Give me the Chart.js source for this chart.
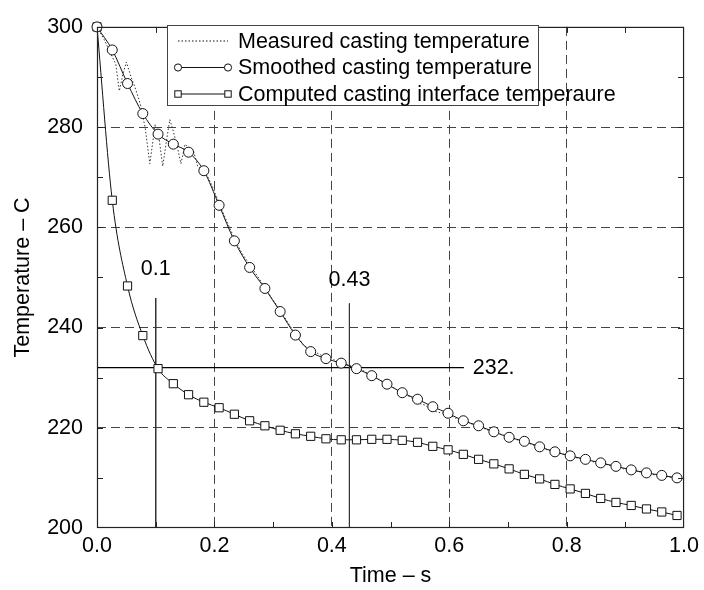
<!DOCTYPE html>
<html>
<head>
<meta charset="utf-8">
<title>Casting temperature</title>
<script src="https://cdn.jsdelivr.net/npm/chart.js@4.4.1/dist/chart.umd.min.js"></script>
<style>
  html, body { margin: 0; padding: 0; background: #fff; }
  .ChartBox { position: relative; width: 704px; height: 590px; }
</style>
</head>
<body>
<div class="ChartBox"><canvas id="TempChart"></canvas></div>
<script>
// sample times of the marked curves (s)
const sampleTimes = [0.000, 0.026, 0.052, 0.078, 0.104, 0.130, 0.156, 0.182, 0.208, 0.234,
  0.260, 0.286, 0.312, 0.338, 0.364, 0.390, 0.416, 0.442, 0.468, 0.494,
  0.520, 0.546, 0.572, 0.598, 0.624, 0.650, 0.676, 0.702, 0.728, 0.754,
  0.780, 0.806, 0.832, 0.858, 0.884, 0.910, 0.936, 0.962, 0.988];

const smoothedTemps = [300, 295.4, 288.7, 282.7, 278.6, 276.6, 275.0, 271.3, 264.4, 257.3,
  252.0, 247.8, 243.2, 238.5, 235.2, 233.8, 232.9, 231.8, 230.4, 228.7,
  227.0, 225.7, 224.2, 222.9, 221.4, 220.4, 219.2, 218.1, 217.3, 216.2,
  215.2, 214.4, 213.7, 213.0, 212.3, 211.6, 211.0, 210.5, 210.0];

const interfaceTemps = [300, 265.4, 248.3, 238.4, 231.8, 228.8, 226.6, 225.1, 224.0, 222.7,
  221.4, 220.4, 219.5, 218.8, 218.3, 217.8, 217.6, 217.6, 217.7, 217.7,
  217.5, 217.1, 216.3, 215.6, 214.7, 213.7, 212.8, 211.8, 210.7, 209.8,
  208.7, 207.8, 206.9, 205.9, 205.1, 204.5, 203.8, 203.2, 202.5];

const measuredTimes = [0, 0.012, 0.024, 0.032, 0.038, 0.044, 0.050, 0.058, 0.066, 0.074,
  0.082, 0.090, 0.099, 0.106, 0.112, 0.118, 0.124, 0.128, 0.136, 0.143,
  0.150, 0.157, 0.164, 0.172, 0.182, 0.195, 0.208, 0.221, 0.234, 0.247,
  0.260, 0.273, 0.286, 0.299, 0.312, 0.325, 0.338, 0.351, 0.364, 0.377,
  0.390, 0.403, 0.416, 0.429, 0.442, 0.455, 0.468, 0.481, 0.494, 0.507,
  0.520, 0.533, 0.546, 0.559, 0.572, 0.585, 0.598, 0.611, 0.624, 0.637,
  0.650, 0.663, 0.676, 0.689, 0.702, 0.715, 0.728, 0.741, 0.754, 0.767,
  0.780, 0.793, 0.806, 0.819, 0.832, 0.845, 0.858, 0.871, 0.884, 0.897,
  0.910, 0.923, 0.936, 0.949, 0.962, 0.975, 0.988];

const measuredTemps = [300, 297.5, 294.5, 292.6, 287.2, 290.5, 293.0, 290.0, 287.5, 284.5,
  279.9, 272.7, 280.5, 277.5, 272.2, 277.0, 281.5, 280.0, 276.5, 272.7,
  276.6, 275.8, 275.4, 272.0, 271.6, 268.6, 264.8, 261.2, 257.8, 254.8,
  252.6, 250.3, 248.0, 245.6, 243.6, 241.0, 238.8, 236.6, 235.5, 234.8,
  234.0, 233.6, 233.0, 232.5, 231.9, 231.3, 230.3, 229.6, 228.5, 227.9,
  226.8, 226.2, 225.0, 224.5, 223.4, 223.0, 222.8, 221.9, 221.6, 220.8,
  220.6, 219.6, 219.4, 218.6, 218.3, 217.6, 217.5, 216.6, 216.4, 215.6,
  215.4, 214.7, 214.6, 213.9, 213.9, 213.2, 213.2, 212.5, 212.5, 211.8,
  211.8, 211.2, 211.2, 210.6, 210.7, 210.1, 210.3];

// reading lines
const markTimes = [0.1, 0.43];
const markTimeLabels = ["0.1", "0.43"];
const markLineTops = [245.9, 244.8];
const markLabelTemps = [250.4, 248.3];
const meltTemp = 232;
const meltLineEnd = 0.625;
const meltLabel = "232.";
const meltLabelTime = 0.64;

const legendLabels = [
  "Measured casting temperature",
  "Smoothed casting temperature",
  "Computed casting interface temperaure",
];

const FONT_FAMILY = "'Liberation Sans', Arial, Helvetica, sans-serif";
const FONT_SIZE = 21.5;
const tickFont = { family: FONT_FAMILY, size: FONT_SIZE };
const INK = "#111";

function toPoints(xs, ys) {
  return xs.map((x, i) => ({ x, y: ys[i] }));
}

const markDatasets = markTimes.map((t, i) => ({
  data: [{ x: t, y: markLineTops[i] }, { x: t, y: 200 }],
  borderColor: "#333",
  borderWidth: 1,
  pointRadius: 0,
  order: 5,
}));

const meltDataset = {
  data: [{ x: 0, y: meltTemp }, { x: meltLineEnd, y: meltTemp }],
  borderColor: "#000",
  borderWidth: 1.2,
  pointRadius: 0,
  order: 5,
};

const gridColor = (ctx, lo, hi) =>
  ctx.tick && ctx.tick.value > lo && ctx.tick.value < hi ? "#444" : "rgba(0,0,0,0)";

const frameAndNotes = {
  id: "frameAndNotes",
  afterDraw(chart) {
    const { ctx, chartArea: a, scales: { x, y } } = chart;
    ctx.save();

    // frame
    ctx.strokeStyle = "#222";
    ctx.lineWidth = 1.2;
    ctx.setLineDash([]);
    ctx.strokeRect(a.left + 0.5, a.top + 0.5, a.right - a.left - 1, a.bottom - a.top - 1);

    // inward ticks every 0.1 s and 10 C
    ctx.lineWidth = 1;
    ctx.beginPath();
    for (let k = 1; k < 10; k++) {
      const px = Math.round(x.getPixelForValue(k / 10)) + 0.5;
      ctx.moveTo(px, a.bottom); ctx.lineTo(px, a.bottom - 6);
      ctx.moveTo(px, a.top); ctx.lineTo(px, a.top + 6);
    }
    for (let k = 1; k < 10; k++) {
      const py = Math.round(y.getPixelForValue(200 + k * 10)) + 0.5;
      ctx.moveTo(a.left, py); ctx.lineTo(a.left + 6, py);
      ctx.moveTo(a.right, py); ctx.lineTo(a.right - 6, py);
    }
    ctx.stroke();

    // reading labels
    ctx.font = FONT_SIZE + "px " + FONT_FAMILY;
    ctx.fillStyle = "#000";
    ctx.textBaseline = "alphabetic";
    ctx.textAlign = "center";
    markTimes.forEach((t, i) => {
      ctx.fillText(markTimeLabels[i], x.getPixelForValue(t), y.getPixelForValue(markLabelTemps[i]));
    });
    ctx.textAlign = "left";
    ctx.textBaseline = "middle";
    ctx.fillText(meltLabel, x.getPixelForValue(meltLabelTime), y.getPixelForValue(meltTemp));

    // legend
    const box = { left: 167.5, top: 25.5, width: 371, height: 80 };
    const rows = [41, 67.5, 94];
    ctx.fillStyle = "#fff";
    ctx.fillRect(box.left, box.top, box.width, box.height);
    ctx.strokeStyle = "#444";
    ctx.lineWidth = 1;
    ctx.strokeRect(box.left, box.top, box.width, box.height);

    rows.forEach((ry, i) => {
      ctx.strokeStyle = INK;
      ctx.lineWidth = 1;
      ctx.setLineDash(i === 0 ? [1.5, 2] : []);
      ctx.beginPath();
      ctx.moveTo(178, ry);
      ctx.lineTo(228, ry);
      ctx.stroke();
      ctx.setLineDash([]);
      [178, 228].forEach((mx) => {
        if (i === 1) {
          ctx.beginPath();
          ctx.arc(mx, ry, 3.6, 0, Math.PI * 2);
          ctx.fillStyle = "#fff";
          ctx.fill();
          ctx.stroke();
        } else if (i === 2) {
          ctx.fillStyle = "#fff";
          ctx.fillRect(mx - 3.2, ry - 3.2, 6.4, 6.4);
          ctx.strokeRect(mx - 3.2, ry - 3.2, 6.4, 6.4);
        }
      });
      ctx.fillStyle = "#000";
      ctx.textAlign = "left";
      ctx.textBaseline = "middle";
      ctx.fillText(legendLabels[i], 238, ry + 1);
    });

    ctx.restore();
  },
};

new Chart(document.querySelector("#TempChart"), {
  type: "line",
  data: {
    datasets: [
      {
        label: legendLabels[1],
        data: toPoints(sampleTimes, smoothedTemps),
        borderColor: INK,
        borderWidth: 1,
        cubicInterpolationMode: "monotone",
        pointStyle: "circle",
        pointRadius: 5,
        pointBorderWidth: 1,
        pointBorderColor: INK,
        pointBackgroundColor: "#fff",
        clip: false,
        order: 1,
      },
      {
        label: legendLabels[2],
        data: toPoints(sampleTimes, interfaceTemps),
        borderColor: INK,
        borderWidth: 1,
        cubicInterpolationMode: "monotone",
        pointStyle: "rect",
        pointRadius: 5.8,
        pointBorderWidth: 1,
        pointBorderColor: INK,
        pointBackgroundColor: "#fff",
        clip: false,
        order: 2,
      },
      {
        label: legendLabels[0],
        data: toPoints(measuredTimes, measuredTemps),
        borderColor: "#333",
        borderWidth: 1,
        borderDash: [1.5, 2],
        pointRadius: 0,
        tension: 0,
        order: 3,
      },
      ...markDatasets,
      meltDataset,
    ],
  },
  options: {
    responsive: true,
    maintainAspectRatio: false,
    animation: false,
    events: [],
    layout: { padding: { left: 0, right: 17, top: 17, bottom: 0 } },
    plugins: {
      legend: { display: false },
      tooltip: { enabled: false },
    },
    scales: {
      x: {
        type: "linear",
        min: 0,
        max: 1,
        afterFit: (scale) => { scale.height = 62; },
        ticks: {
          stepSize: 0.2,
          callback: (value) => Number(value).toFixed(1),
          font: tickFont,
          color: "#000",
          padding: 5,
          maxRotation: 0,
        },
        grid: {
          drawTicks: false,
          lineWidth: 1,
          color: (ctx) => gridColor(ctx, 0.01, 0.99),
        },
        border: { display: false, dash: [9, 5] },
        title: {
          display: true,
          text: "Time – s",
          font: tickFont,
          color: "#000",
          padding: { top: 0, bottom: 1 },
        },
      },
      y: {
        type: "linear",
        min: 200,
        max: 300,
        afterFit: (scale) => { scale.width = 97; },
        ticks: {
          stepSize: 20,
          font: tickFont,
          color: "#000",
          padding: 14,
        },
        grid: {
          drawTicks: false,
          lineWidth: 1,
          color: (ctx) => gridColor(ctx, 201, 299),
        },
        border: { display: false, dash: [9, 5] },
        title: {
          display: true,
          text: "Temperature – C",
          font: tickFont,
          color: "#000",
          padding: { top: 10, bottom: 0 },
        },
      },
    },
  },
  plugins: [frameAndNotes],
});
</script>
</body>
</html>
